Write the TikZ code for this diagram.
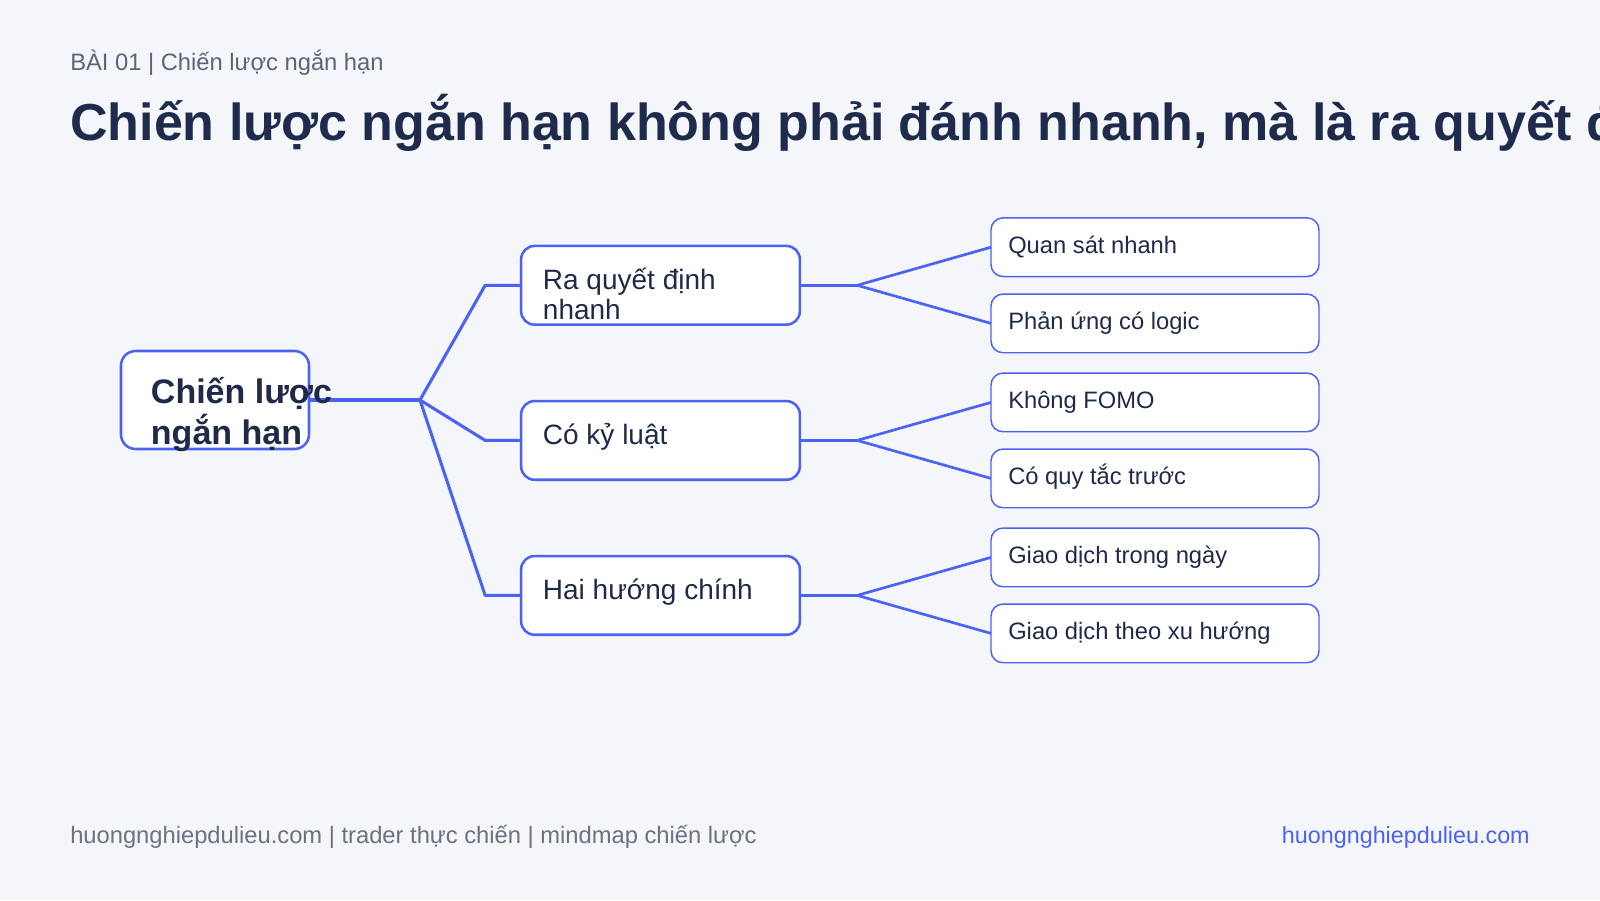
\documentclass[tikz,border=0pt]{standalone}
\usepackage{fontspec}
\setmainfont{Liberation Sans}
\usetikzlibrary{calc}
\definecolor{bg}{HTML}{F4F6F9}
\definecolor{blueline}{HTML}{4A63F5}
\definecolor{navy}{HTML}{1E2B4D}
\definecolor{graytext}{HTML}{5B6478}
\definecolor{footgray}{HTML}{6B7280}
\definecolor{nodetext}{HTML}{1F2A48}
\begin{document}
\begin{tikzpicture}[x=0.75pt,y=-0.75pt,
  rootbox/.style={draw=blueline, line width=1.9pt, fill=white, rounded corners=11pt,
    minimum width=141pt, minimum height=73.5pt, inner sep=0pt, outer sep=0pt},
  midbox/.style={draw=blueline, line width=1.9pt, fill=white, rounded corners=10pt,
    minimum width=209pt, minimum height=59pt, inner sep=0pt, outer sep=0pt},
  leafbox/.style={draw=blueline, line width=1.1pt, fill=white, rounded corners=9pt,
    minimum width=246pt, minimum height=44pt, inner sep=0pt, outer sep=0pt},
  roottext/.style={anchor=base west, inner sep=0pt, text=nodetext,
    font=\fontsize{25.5}{27.75}\selectfont\bfseries},
  midtext/.style={anchor=base west, inner sep=0pt, text=nodetext,
    font=\fontsize{21}{22.5}\selectfont},
  leaftext/.style={anchor=base west, inner sep=0pt, text=nodetext,
    font=\fontsize{17.8}{20}\selectfont},
  thick link/.style={draw=blueline, line width=2.3pt, line join=round},
  thin link/.style={draw=blueline, line width=2pt, line join=round}
]
\fill[bg] (0,0) rectangle (1600,900);
\useasboundingbox (0,0) rectangle (1600,900);

% header
\node[anchor=base west, inner sep=0pt, text=graytext, font=\fontsize{17.8}{20}\selectfont]
  (sub) at (70,70) {BÀI 01 | Chiến lược ngắn hạn};
\begin{scope}
\clip (0,0) rectangle (1600,900);
\node[anchor=base west, inner sep=0pt, text=navy, font=\fontsize{39}{44}\selectfont\bfseries]
  (title) at (70,140.5) {Chiến lược ngắn hạn không phải đánh nhanh, mà là ra quyết định};
\end{scope}

% boxes
\node[rootbox] (root) at (215,400) {};
\node[midbox] (ma) at (660.5,285.3) {};
\node[midbox] (mb) at (660.5,440.4) {};
\node[midbox] (mc) at (660.5,595.4) {};
\node[leafbox] (la1) at (1155,247.2) {};
\node[leafbox] (la2) at (1155,323.4) {};
\node[leafbox] (lb1) at (1155,402.4) {};
\node[leafbox] (lb2) at (1155,478.4) {};
\node[leafbox] (lc1) at (1155,557.4) {};
\node[leafbox] (lc2) at (1155,633.4) {};

% connectors
\coordinate (hub) at (420,400);
\coordinate (ka) at ([xshift=-27pt]ma.west);
\coordinate (kb) at ([xshift=-27pt]mb.west);
\coordinate (kc) at ([xshift=-27pt]mc.west);
\draw[thick link] (root.east) -- (hub);
\draw[thick link] (hub) -- (ka) -- (ma.west);
\draw[thick link] (hub) -- (kb) -- (mb.west);
\draw[thick link] (hub) -- (kc) -- (mc.west);
\coordinate (ha) at ([xshift=43pt]ma.east);
\coordinate (hb) at ([xshift=43pt]mb.east);
\coordinate (hc) at ([xshift=43pt]mc.east);
\draw[thick link] (ma.east) -- (ha);
\draw[thick link] (mb.east) -- (hb);
\draw[thick link] (mc.east) -- (hc);
\draw[thin link] (ha) -- (la1.west);
\draw[thin link] (ha) -- (la2.west);
\draw[thin link] (hb) -- (lb1.west);
\draw[thin link] (hb) -- (lb2.west);
\draw[thin link] (hc) -- (lc1.west);
\draw[thin link] (hc) -- (lc2.west);

% texts
\node[roottext] (roott) at ($(root.north west)+(29.7,52)$)
  {\begin{tabular}[t]{@{}l@{}}Chiến lược\\ngắn hạn\end{tabular}};
\node[midtext] (mat) at ($(ma.north west)+(21.5,43.3)$)
  {\begin{tabular}[t]{@{}l@{}}Ra quyết định\\nhanh\end{tabular}};
\node[midtext] (mbt) at ($(mb.north west)+(21.5,43.3)$) {Có kỷ luật};
\node[midtext] (mct) at ($(mc.north west)+(21.5,43.3)$) {Hai hướng chính};
\node[leaftext] (la1t) at ($(la1.north west)+(17,35.6)$) {Quan sát nhanh};
\node[leaftext] (la2t) at ($(la2.north west)+(17,35.6)$) {Phản ứng có logic};
\node[leaftext] (lb1t) at ($(lb1.north west)+(17,35.6)$) {Không FOMO};
\node[leaftext] (lb2t) at ($(lb2.north west)+(17,35.6)$) {Có quy tắc trước};
\node[leaftext] (lc1t) at ($(lc1.north west)+(17,35.6)$) {Giao dịch trong ngày};
\node[leaftext] (lc2t) at ($(lc2.north west)+(17,35.6)$) {Giao dịch theo xu hướng};

% footer
\node[anchor=base west, inner sep=0pt, text=footgray, font=\fontsize{17.8}{20}\selectfont]
  (footl) at (70,843) {huongnghiepdulieu.com | trader thực chiến | mindmap chiến lược};
\node[anchor=base east, inner sep=0pt, text=blueline, font=\fontsize{17.5}{20}\selectfont]
  (footr) at (1530,843) {huongnghiepdulieu.com};
\end{tikzpicture}
\end{document}
